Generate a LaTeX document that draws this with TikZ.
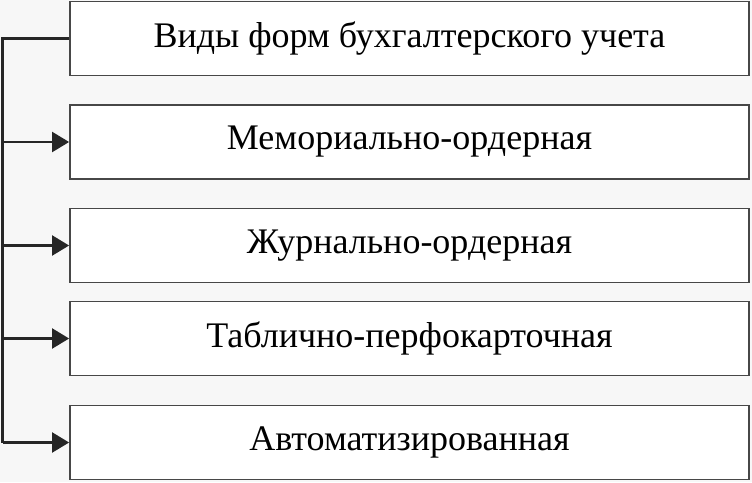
\documentclass[tikz,border=0pt]{standalone}
\usepackage{fontspec}
\setmainfont{Liberation Serif}
\usetikzlibrary{arrows.meta}

\begin{document}
\begin{tikzpicture}[x=1pt,y=-1pt,
	vid/.style={draw=black!72, line width=1.8pt, fill=white, minimum width=679pt, minimum height=74pt, inner sep=0pt, font=\fontsize{36}{40}\selectfont},
	liniya/.style={draw=black!85, line width=2.2pt},
	strel/.style={liniya, -{Triangle[length=17pt,width=20pt]}}]
	\fill[black!3] (0,0) rectangle (752,482);
	\useasboundingbox (0,0) rectangle (752,482);
	%
	\node[vid] (vidy) at (409.5,38.5) {Виды форм бухгалтерского учета};
	\node[vid] (memo) at (409.5,142) {Мемориально-ордерная};
	\node[vid] (zhur) at (409.5,245.5) {Журнально-ордерная};
	\node[vid] (tabl) at (409.5,338.5) {Таблично-перфокарточная};
	\node[vid] (avto) at (409.5,442.5) {Автоматизированная};
	%
	\coordinate (verh) at (2.5,38.5);
	\coordinate (niz) at (2.5,442.5);
	\draw[liniya] (vidy.west) -- (verh) -- (niz);
	\draw[strel] (verh |- memo.west) -- (memo.west);
	\draw[strel] (verh |- zhur.west) -- (zhur.west);
	\draw[strel] (verh |- tabl.west) -- (tabl.west);
	\draw[strel] (niz) -- (avto.west);
\end{tikzpicture}
\end{document}
